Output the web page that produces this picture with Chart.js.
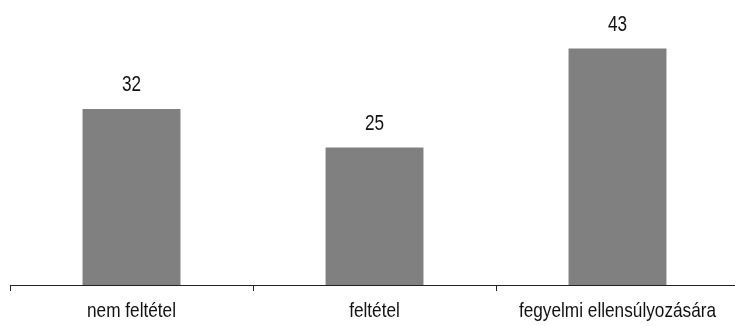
<!DOCTYPE html>
<html>
<head>
<meta charset="utf-8">
<script src="https://cdn.jsdelivr.net/npm/chart.js@4/dist/chart.umd.min.js"></script>
<style>
  html, body { margin: 0; padding: 0; background: #fff; overflow: hidden; }
  #wrap { width: 750px; height: 326px; position: relative; }
</style>
</head>
<body>
<div id="wrap"><canvas id="c"></canvas></div>
<script>
// Categories and values
const categories = ['nem feltétel', 'feltétel', 'fegyelmi ellensúlyozására'];
const values = [32, 25, 43];

const FONT = "'Liberation Sans', Arial, sans-serif";

// Narrow text: a regular face squeezed horizontally
function narrowText(ctx, text, x, y, size, squeeze) {
  ctx.save();
  ctx.font = size + 'px ' + FONT;
  ctx.fillStyle = '#111';
  ctx.textAlign = 'center';
  ctx.textBaseline = 'alphabetic';
  ctx.translate(x, y);
  ctx.scale(squeeze, 1);
  ctx.fillText(text, 0, 0);
  ctx.restore();
}

// Value above each bar and category names under the axis
const narrowLabels = {
  id: 'narrowLabels',
  afterDatasetsDraw(chart) {
    const ctx = chart.ctx;
    const meta = chart.getDatasetMeta(0);
    meta.data.forEach((bar, i) => {
      narrowText(ctx, String(chart.data.datasets[0].data[i]), bar.x, bar.y - 18, 22, 0.78);
    });
    const xs = chart.scales.x;
    chart.data.labels.forEach((lab, i) => {
      narrowText(ctx, lab, xs.getPixelForTick(i), xs.top + 32, 21, 0.82);
    });
  }
};

new Chart(document.getElementById('c'), {
  type: 'bar',
  data: {
    labels: categories,
    datasets: [{
      data: values,
      backgroundColor: '#808080',
      borderWidth: 0,
      categoryPercentage: 1,
      barPercentage: 0.403
    }]
  },
  options: {
    responsive: true,
    maintainAspectRatio: false,
    animation: false,
    layout: { padding: { left: 10, right: 11, top: 10, bottom: 0 } },
    plugins: { legend: { display: false }, tooltip: { enabled: false } },
    scales: {
      y: { display: false, min: 0, max: 50 },
      x: {
        afterFit(scale) { scale.height = 41; },
        border: { display: true, color: '#222', width: 1 },
        grid: {
          offset: true,
          drawOnChartArea: false,
          drawTicks: true,
          tickLength: 6,
          color: '#222',
          tickColor: '#222'
        },
        ticks: { display: false, autoSkip: false }
      }
    }
  },
  plugins: [narrowLabels]
});
</script>
</body>
</html>
